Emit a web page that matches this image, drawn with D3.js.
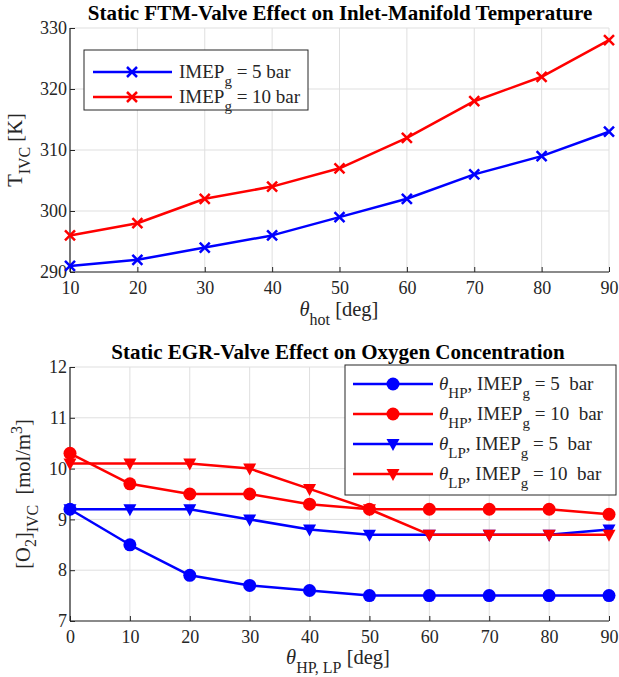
<!DOCTYPE html>
<html>
<head>
<meta charset="utf-8">
<script src="https://cdn.jsdelivr.net/npm/d3@7"></script>
<style>
body { margin: 0; background: #fff; }
</style>
</head>
<body>
<script>
// top chart data
var hotAngle = [10, 20, 30, 40, 50, 60, 70, 80, 90];
var temp5 = [291, 292, 294, 296, 299, 302, 306, 309, 313];
var temp10 = [296, 298, 302, 304, 307, 312, 318, 322, 328];
var tempTicks = [290, 300, 310, 320, 330];

// bottom chart data
var egrAngle = [0, 10, 20, 30, 40, 50, 60, 70, 80, 90];
var hp5 = [9.2, 8.5, 7.9, 7.7, 7.6, 7.5, 7.5, 7.5, 7.5, 7.5];
var hp10 = [10.3, 9.7, 9.5, 9.5, 9.3, 9.2, 9.2, 9.2, 9.2, 9.1];
var lp5 = [9.2, 9.2, 9.2, 9.0, 8.8, 8.7, 8.7, 8.7, 8.7, 8.8];
var lp10 = [10.1, 10.1, 10.1, 10.0, 9.6, 9.2, 8.7, 8.7, 8.7, 8.7];
var o2Ticks = [7, 8, 9, 10, 11, 12];

var FONT = "'Liberation Serif', 'Times New Roman', Times, 'DejaVu Serif', serif";
var svg = d3.select("body").append("svg").attr("width", 619).attr("height", 677);

function drawAxes(x, y, xt, yt) {
  var g = svg.append("g");
  // grid
  g.selectAll(".gx").data(xt).enter().append("line")
    .attr("x1", d => x(d)).attr("x2", d => x(d))
    .attr("y1", y.range()[0]).attr("y2", y.range()[1])
    .attr("stroke", "#dfdfdf").attr("stroke-width", 1);
  g.selectAll(".gy").data(yt).enter().append("line")
    .attr("y1", d => y(d)).attr("y2", d => y(d))
    .attr("x1", x.range()[0]).attr("x2", x.range()[1])
    .attr("stroke", "#dfdfdf").attr("stroke-width", 1);
  var xa = svg.append("g").attr("transform", "translate(0," + y.range()[0] + ")")
    .call(d3.axisBottom(x).tickValues(xt).tickFormat(d3.format("d")).tickSize(-5).tickPadding(9));
  var ya = svg.append("g").attr("transform", "translate(" + x.range()[0] + ",0)")
    .call(d3.axisLeft(y).tickValues(yt).tickFormat(d3.format("d")).tickSize(-5).tickPadding(3));
  [xa, ya].forEach(function(a) {
    a.select(".domain").attr("stroke", "#262626").attr("stroke-width", 1.2);
    a.selectAll(".tick line").attr("stroke", "#262626");
    a.selectAll("text").attr("font-size", 18).attr("fill", "#262626");
  });
  xa.select(".domain").attr("d", "M" + x.range()[0] + ",0H" + x.range()[1]);
  ya.select(".domain").attr("d", "M0," + y.range()[0] + "V" + y.range()[1]);
}

function xMark(g, cx, cy, color) {
  var s = 5;
  g.append("path").attr("d", "M" + (cx - s) + "," + (cy - s) + "L" + (cx + s) + "," + (cy + s) +
      "M" + (cx - s) + "," + (cy + s) + "L" + (cx + s) + "," + (cy - s))
    .attr("stroke", color).attr("stroke-width", 2.5).attr("fill", "none");
}
function dotMark(g, cx, cy, color) {
  g.append("circle").attr("cx", cx).attr("cy", cy).attr("r", 6.5).attr("fill", color);
}
function triMark(g, cx, cy, color) {
  g.append("path").attr("d", "M" + (cx - 6.5) + "," + (cy - 5) + "L" + (cx + 6.5) + "," + (cy - 5) + "L" + cx + "," + (cy + 7) + "Z")
    .attr("fill", color);
}

function series(x, y, xs, ys, color, mark) {
  var g = svg.append("g");
  var line = d3.line().x((d, i) => x(xs[i])).y(d => y(d));
  g.append("path").datum(ys).attr("d", line).attr("fill", "none")
    .attr("stroke", color).attr("stroke-width", 2.5).attr("stroke-linejoin", "round");
  ys.forEach(function(v, i) { mark(g, x(xs[i]), y(v), color); });
}

// ---------- top chart
var x1 = d3.scaleLinear().domain([10, 90]).range([70, 609]);
var y1 = d3.scaleLinear().domain([290, 330]).range([272, 28]);
drawAxes(x1, y1, hotAngle, tempTicks);
series(x1, y1, hotAngle, temp5, "#0000ff", xMark);
series(x1, y1, hotAngle, temp10, "#ff0000", xMark);

svg.append("text").attr("x", 340).attr("y", 20).attr("text-anchor", "middle")
  .attr("font-size", 21).attr("font-weight", "bold").attr("fill", "#000")
  .text("Static FTM-Valve Effect on Inlet-Manifold Temperature");

var t = svg.append("text").attr("x", 339).attr("y", 316).attr("text-anchor", "middle").attr("font-size", 20.5);
t.append("tspan").attr("font-style", "italic").text("θ");
t.append("tspan").attr("dy", 9).attr("font-size", 16).text("hot");
t.append("tspan").attr("dy", -9).text(" [deg]");

t = svg.append("text").attr("transform", "translate(22,150) rotate(-90)").attr("text-anchor", "middle").attr("font-size", 20.5);
t.append("tspan").text("T");
t.append("tspan").attr("dy", 8).attr("font-size", 16).text("IVC");
t.append("tspan").attr("dy", -8).text(" [K]");

// legend top
var lg = svg.append("g");
lg.append("rect").attr("x", 84).attr("y", 50).attr("width", 224).attr("height", 60)
  .attr("fill", "#fff").attr("stroke", "#262626").attr("stroke-width", 1);
var leg1 = [{c: "#0000ff", v: "5"}, {c: "#ff0000", v: "10"}];
leg1.forEach(function(d, i) {
  var yy = 72 + i * 25;
  lg.append("line").attr("x1", 93).attr("x2", 172).attr("y1", yy).attr("y2", yy)
    .attr("stroke", d.c).attr("stroke-width", 2.5);
  xMark(lg, 132, yy, d.c);
  var tx = lg.append("text").attr("x", 179).attr("y", yy + 6).attr("font-size", 19);
  tx.append("tspan").text("IMEP");
  tx.append("tspan").attr("dy", 8).attr("font-size", 15).text("g");
  tx.append("tspan").attr("dy", -8).text(" = " + d.v + " bar");
});

// ---------- bottom chart
var x2 = d3.scaleLinear().domain([0, 90]).range([70, 609]);
var y2 = d3.scaleLinear().domain([7, 12]).range([621, 367]);
drawAxes(x2, y2, egrAngle, o2Ticks);
series(x2, y2, egrAngle, hp5, "#0000ff", dotMark);
series(x2, y2, egrAngle, hp10, "#ff0000", dotMark);
series(x2, y2, egrAngle, lp5, "#0000ff", triMark);
series(x2, y2, egrAngle, lp10, "#ff0000", triMark);

svg.append("text").attr("x", 338).attr("y", 359).attr("text-anchor", "middle")
  .attr("font-size", 21).attr("font-weight", "bold").attr("fill", "#000")
  .text("Static EGR-Valve Effect on Oxygen Concentration");

t = svg.append("text").attr("x", 338).attr("y", 664).attr("text-anchor", "middle").attr("font-size", 20.5);
t.append("tspan").attr("font-style", "italic").text("θ");
t.append("tspan").attr("dy", 9).attr("font-size", 16).text("HP, LP");
t.append("tspan").attr("dy", -9).text(" [deg]");

t = svg.append("text").attr("transform", "translate(30,494) rotate(-90)").attr("text-anchor", "middle").attr("font-size", 20.5);
t.append("tspan").text("[O");
t.append("tspan").attr("dy", 6).attr("font-size", 16).text("2");
t.append("tspan").attr("dy", -6).text("]");
t.append("tspan").attr("dy", 8).attr("font-size", 16).text("IVC");
t.append("tspan").attr("dy", -8).text("\u00a0 [mol/m");
t.append("tspan").attr("dy", -8).attr("font-size", 16).text("3");
t.append("tspan").attr("dy", 8).text("]");

// legend bottom
var lg2 = svg.append("g");
lg2.append("rect").attr("x", 345).attr("y", 365).attr("width", 271).attr("height", 130)
  .attr("fill", "#fff").attr("stroke", "#262626").attr("stroke-width", 1);
var leg2 = [
  {c: "#0000ff", s: "HP", v: "5", m: dotMark},
  {c: "#ff0000", s: "HP", v: "10", m: dotMark},
  {c: "#0000ff", s: "LP", v: "5", m: triMark},
  {c: "#ff0000", s: "LP", v: "10", m: triMark}
];
leg2.forEach(function(d, i) {
  var yy = 384 + i * 30;
  lg2.append("line").attr("x1", 353).attr("x2", 433).attr("y1", yy).attr("y2", yy)
    .attr("stroke", d.c).attr("stroke-width", 2.5);
  d.m(lg2, 393, yy, d.c);
  var tx = lg2.append("text").attr("x", 439).attr("y", yy + 6).attr("font-size", 19);
  tx.append("tspan").attr("font-style", "italic").text("θ");
  tx.append("tspan").attr("dy", 8).attr("font-size", 15).text(d.s);
  tx.append("tspan").attr("dy", -8).text(", IMEP");
  tx.append("tspan").attr("dy", 8).attr("font-size", 15).text("g");
  tx.append("tspan").attr("dy", -8).text(" = " + d.v + "\u00a0 bar");
});

svg.selectAll("text").style("font-family", FONT);
svg.selectAll("text:not([fill='#000'])").attr("fill", "#262626");
</script>
</body>
</html>
